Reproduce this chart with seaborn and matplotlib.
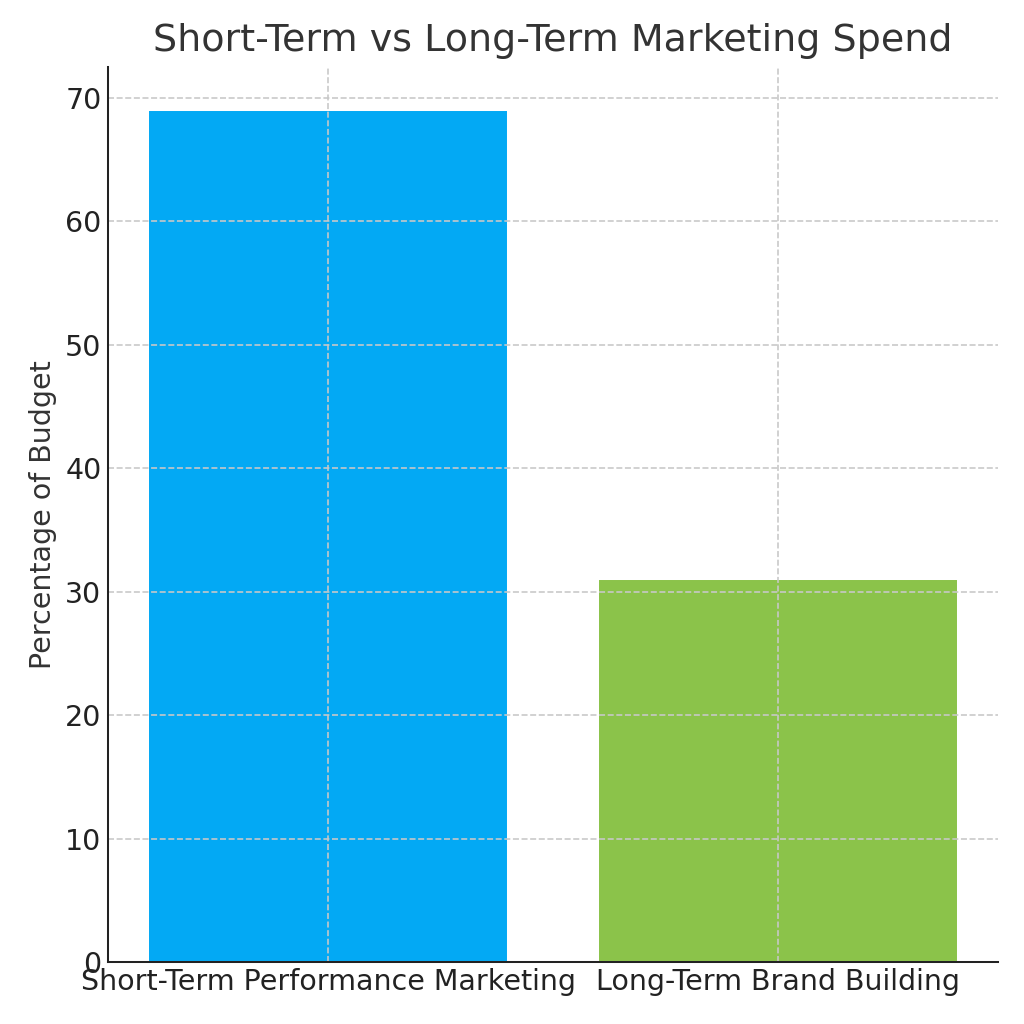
import pandas as pd
import seaborn as sns
import matplotlib
matplotlib.use("Agg")
import matplotlib.pyplot as plt

categories = ["Short-Term Performance Marketing", "Long-Term Brand Building"]
budget_share = [69, 31]
bar_colors = ["#03A9F4", "#8BC34A"]

df = pd.DataFrame({"category": categories, "share": budget_share})

sns.set_style("white")
plt.rcParams["font.family"] = ["DejaVu Sans"]
plt.rcParams["text.color"] = "#333333"
plt.rcParams["axes.labelcolor"] = "#333333"
plt.rcParams["xtick.color"] = "#222222"
plt.rcParams["ytick.color"] = "#222222"

fig, ax = plt.subplots(figsize=(7, 7), dpi=146.3)
sns.barplot(data=df, x="category", y="share", hue="category",
            palette=bar_colors, width=0.8, saturation=1, legend=False, ax=ax)

ax.set_xlim(-0.49, 1.49)
ax.set_ylim(0, 72.45)
ax.set_yticks(range(0, 71, 10))
ax.set_title("Short-Term vs Long-Term Marketing Spend", fontsize=18.7, pad=8)
ax.set_xlabel("")
ax.set_ylabel("Percentage of Budget", fontsize=14)
ax.tick_params(axis="both", labelsize=14, direction="in", length=5, width=1, pad=3)

ax.grid(True, linestyle="--", color="#c8c8c8", linewidth=0.8)
ax.set_axisbelow(False)
for side in ["top", "right"]:
    ax.spines[side].set_visible(False)
for side in ["left", "bottom"]:
    ax.spines[side].set_color("#222222")
    ax.spines[side].set_linewidth(1.0)
    ax.spines[side].set_zorder(5)

plt.subplots_adjust(left=0.105, right=0.975, bottom=0.0605, top=0.934)
plt.savefig("out.png", dpi=146.3)
